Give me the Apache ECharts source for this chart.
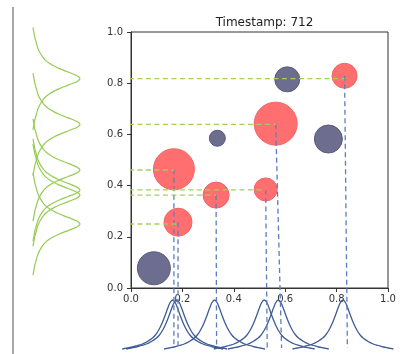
<!DOCTYPE html>
<html>
<head>
<meta charset="utf-8">
<script src="https://cdn.jsdelivr.net/npm/echarts@6/dist/echarts.min.js"></script>
<style>
html,body{margin:0;padding:0;background:#fff;}
#chart{width:408px;height:354px;}
</style>
</head>
<body>
<div id="chart"></div>
<script>
// ---- data ----
var titleText = 'Timestamp: 712';
var tickLabels = ['0.0', '0.2', '0.4', '0.6', '0.8', '1.0'];

var redX = [0.167, 0.183, 0.331, 0.524, 0.563, 0.831];
var redY = [0.464, 0.257, 0.363, 0.385, 0.642, 0.829];
var redSize = [41, 28, 26, 23, 43, 25];

var darkX = [0.089, 0.336, 0.608, 0.768];
var darkY = [0.077, 0.585, 0.815, 0.582];
var darkSize = [33, 16, 25, 28];

// peaks of the marginal density curves (one per red bubble)
var peakX = [0.167, 0.183, 0.333, 0.530, 0.586, 0.842];
var peakY = [0.461, 0.250, 0.363, 0.383, 0.639, 0.818];

// shape of one density curve (offset from peak, relative height)
var kernelOffset = [0, 0.01, 0.02, 0.03, 0.04, 0.05, 0.06, 0.07, 0.08, 0.10, 0.12, 0.14, 0.16, 0.18, 0.20];
var kernelHeight = [1.00, 0.95, 0.83, 0.69, 0.56, 0.45, 0.36, 0.29, 0.24, 0.17, 0.12, 0.09, 0.06, 0.04, 0.02];

// ---- build ----
function curvePoints(center) {
  var pts = [];
  for (var i = kernelOffset.length - 1; i > 0; i--) pts.push([center - kernelOffset[i], kernelHeight[i]]);
  for (var j = 0; j < kernelOffset.length; j++) pts.push([center + kernelOffset[j], kernelHeight[j]]);
  return pts;
}

var chart = echarts.init(document.getElementById('chart'), null, {renderer: 'canvas'});

var font = 'DejaVu Sans';
var series = [];

series.push({
  type: 'scatter', xAxisIndex: 0, yAxisIndex: 0, z: 3,
  data: redX.map(function (x, i) { return [x, redY[i], redSize[i]]; }),
  symbolSize: function (v) { return v[2]; },
  itemStyle: {color: '#ff6f6f', borderColor: '#f26464', borderWidth: 1, opacity: 1}
});
series.push({
  type: 'scatter', xAxisIndex: 0, yAxisIndex: 0, z: 3,
  data: darkX.map(function (x, i) { return [x, darkY[i], darkSize[i]]; }),
  symbolSize: function (v) { return v[2]; },
  itemStyle: {color: '#6d6d8f', borderColor: '#5a5a7a', borderWidth: 1, opacity: 1}
});

// main-grid extents reused for the connector lines (below the axis / left of the axis)
var bottomEnd = -0.234;
var leftEnd = -0.405;

redX.forEach(function (x, i) {
  series.push({
    type: 'line', xAxisIndex: 0, yAxisIndex: 0, z: 5, clip: false,
    symbol: 'none', silent: true, animation: false,
    data: [[x, redY[i]], [peakX[i], bottomEnd]],
    lineStyle: {color: '#5b7cc4', width: 1.3, type: [5, 3.5]}
  });
  series.push({
    type: 'line', xAxisIndex: 0, yAxisIndex: 0, z: 5, clip: false,
    symbol: 'none', silent: true, animation: false,
    data: [[leftEnd, peakY[i]], [x, peakY[i]]],
    lineStyle: {color: '#a3d05a', width: 1.3, type: [5, 3.5]}
  });
});

peakX.forEach(function (c) {
  series.push({
    type: 'line', xAxisIndex: 1, yAxisIndex: 1, z: 4, clip: false,
    symbol: 'none', smooth: 0.3, silent: true, animation: false,
    data: curvePoints(c),
    lineStyle: {color: '#3e5c93', width: 1.3}
  });
});
peakY.forEach(function (c) {
  series.push({
    type: 'line', xAxisIndex: 2, yAxisIndex: 2, z: 4, clip: false,
    symbol: 'none', smooth: 0.3, silent: true, animation: false,
    data: curvePoints(c).map(function (p) { return [p[1], p[0]]; }),
    lineStyle: {color: '#96cc52', width: 1.2}
  });
});

var axisLabelFmt = function (v) {
  var idx = Math.round(v / 0.2);
  return tickLabels[idx] !== undefined ? tickLabels[idx] : '';
};

var option = {
  animation: false,
  backgroundColor: '#ffffff',
  title: {
    text: titleText, left: 259.5, top: 12, textAlign: 'center',
    textStyle: {fontFamily: font, fontSize: 12, fontWeight: 'normal', color: '#222'}
  },
  grid: [
    {left: 131, top: 32, width: 257, height: 256, show: true, borderColor: '#333', borderWidth: 1, backgroundColor: 'transparent'},
    {left: 105.3, top: 300, width: 308.4, height: 50},
    {left: 32, top: 6.4, width: 48, height: 307.2}
  ],
  xAxis: [
    {type: 'value', gridIndex: 0, min: 0, max: 1, interval: 0.2,
     axisLine: {show: true, lineStyle: {color: '#333', width: 1}},
     axisTick: {show: true, length: 4, lineStyle: {color: '#333'}},
     axisLabel: {formatter: axisLabelFmt, fontFamily: font, fontSize: 10, color: '#333', margin: 6},
     splitLine: {show: false}},
    {type: 'value', gridIndex: 1, min: -0.1, max: 1.1, show: false},
    {type: 'value', gridIndex: 2, min: 0, max: 1, show: false}
  ],
  yAxis: [
    {type: 'value', gridIndex: 0, min: 0, max: 1, interval: 0.2,
     axisLine: {show: true, lineStyle: {color: '#333', width: 1}},
     axisTick: {show: true, length: 4, lineStyle: {color: '#333'}},
     axisLabel: {formatter: axisLabelFmt, fontFamily: font, fontSize: 10, color: '#333', margin: 8},
     splitLine: {show: false}},
    {type: 'value', gridIndex: 1, min: 0, max: 1, show: false},
    {type: 'value', gridIndex: 2, min: -0.1, max: 1.1, show: false}
  ],
  graphic: [
    {type: 'line', shape: {x1: 13, y1: 7, x2: 13, y2: 354}, style: {stroke: '#8a8a8a', lineWidth: 1.5}, silent: true}
  ],
  series: series
};
chart.setOption(option);
</script>
</body>
</html>
